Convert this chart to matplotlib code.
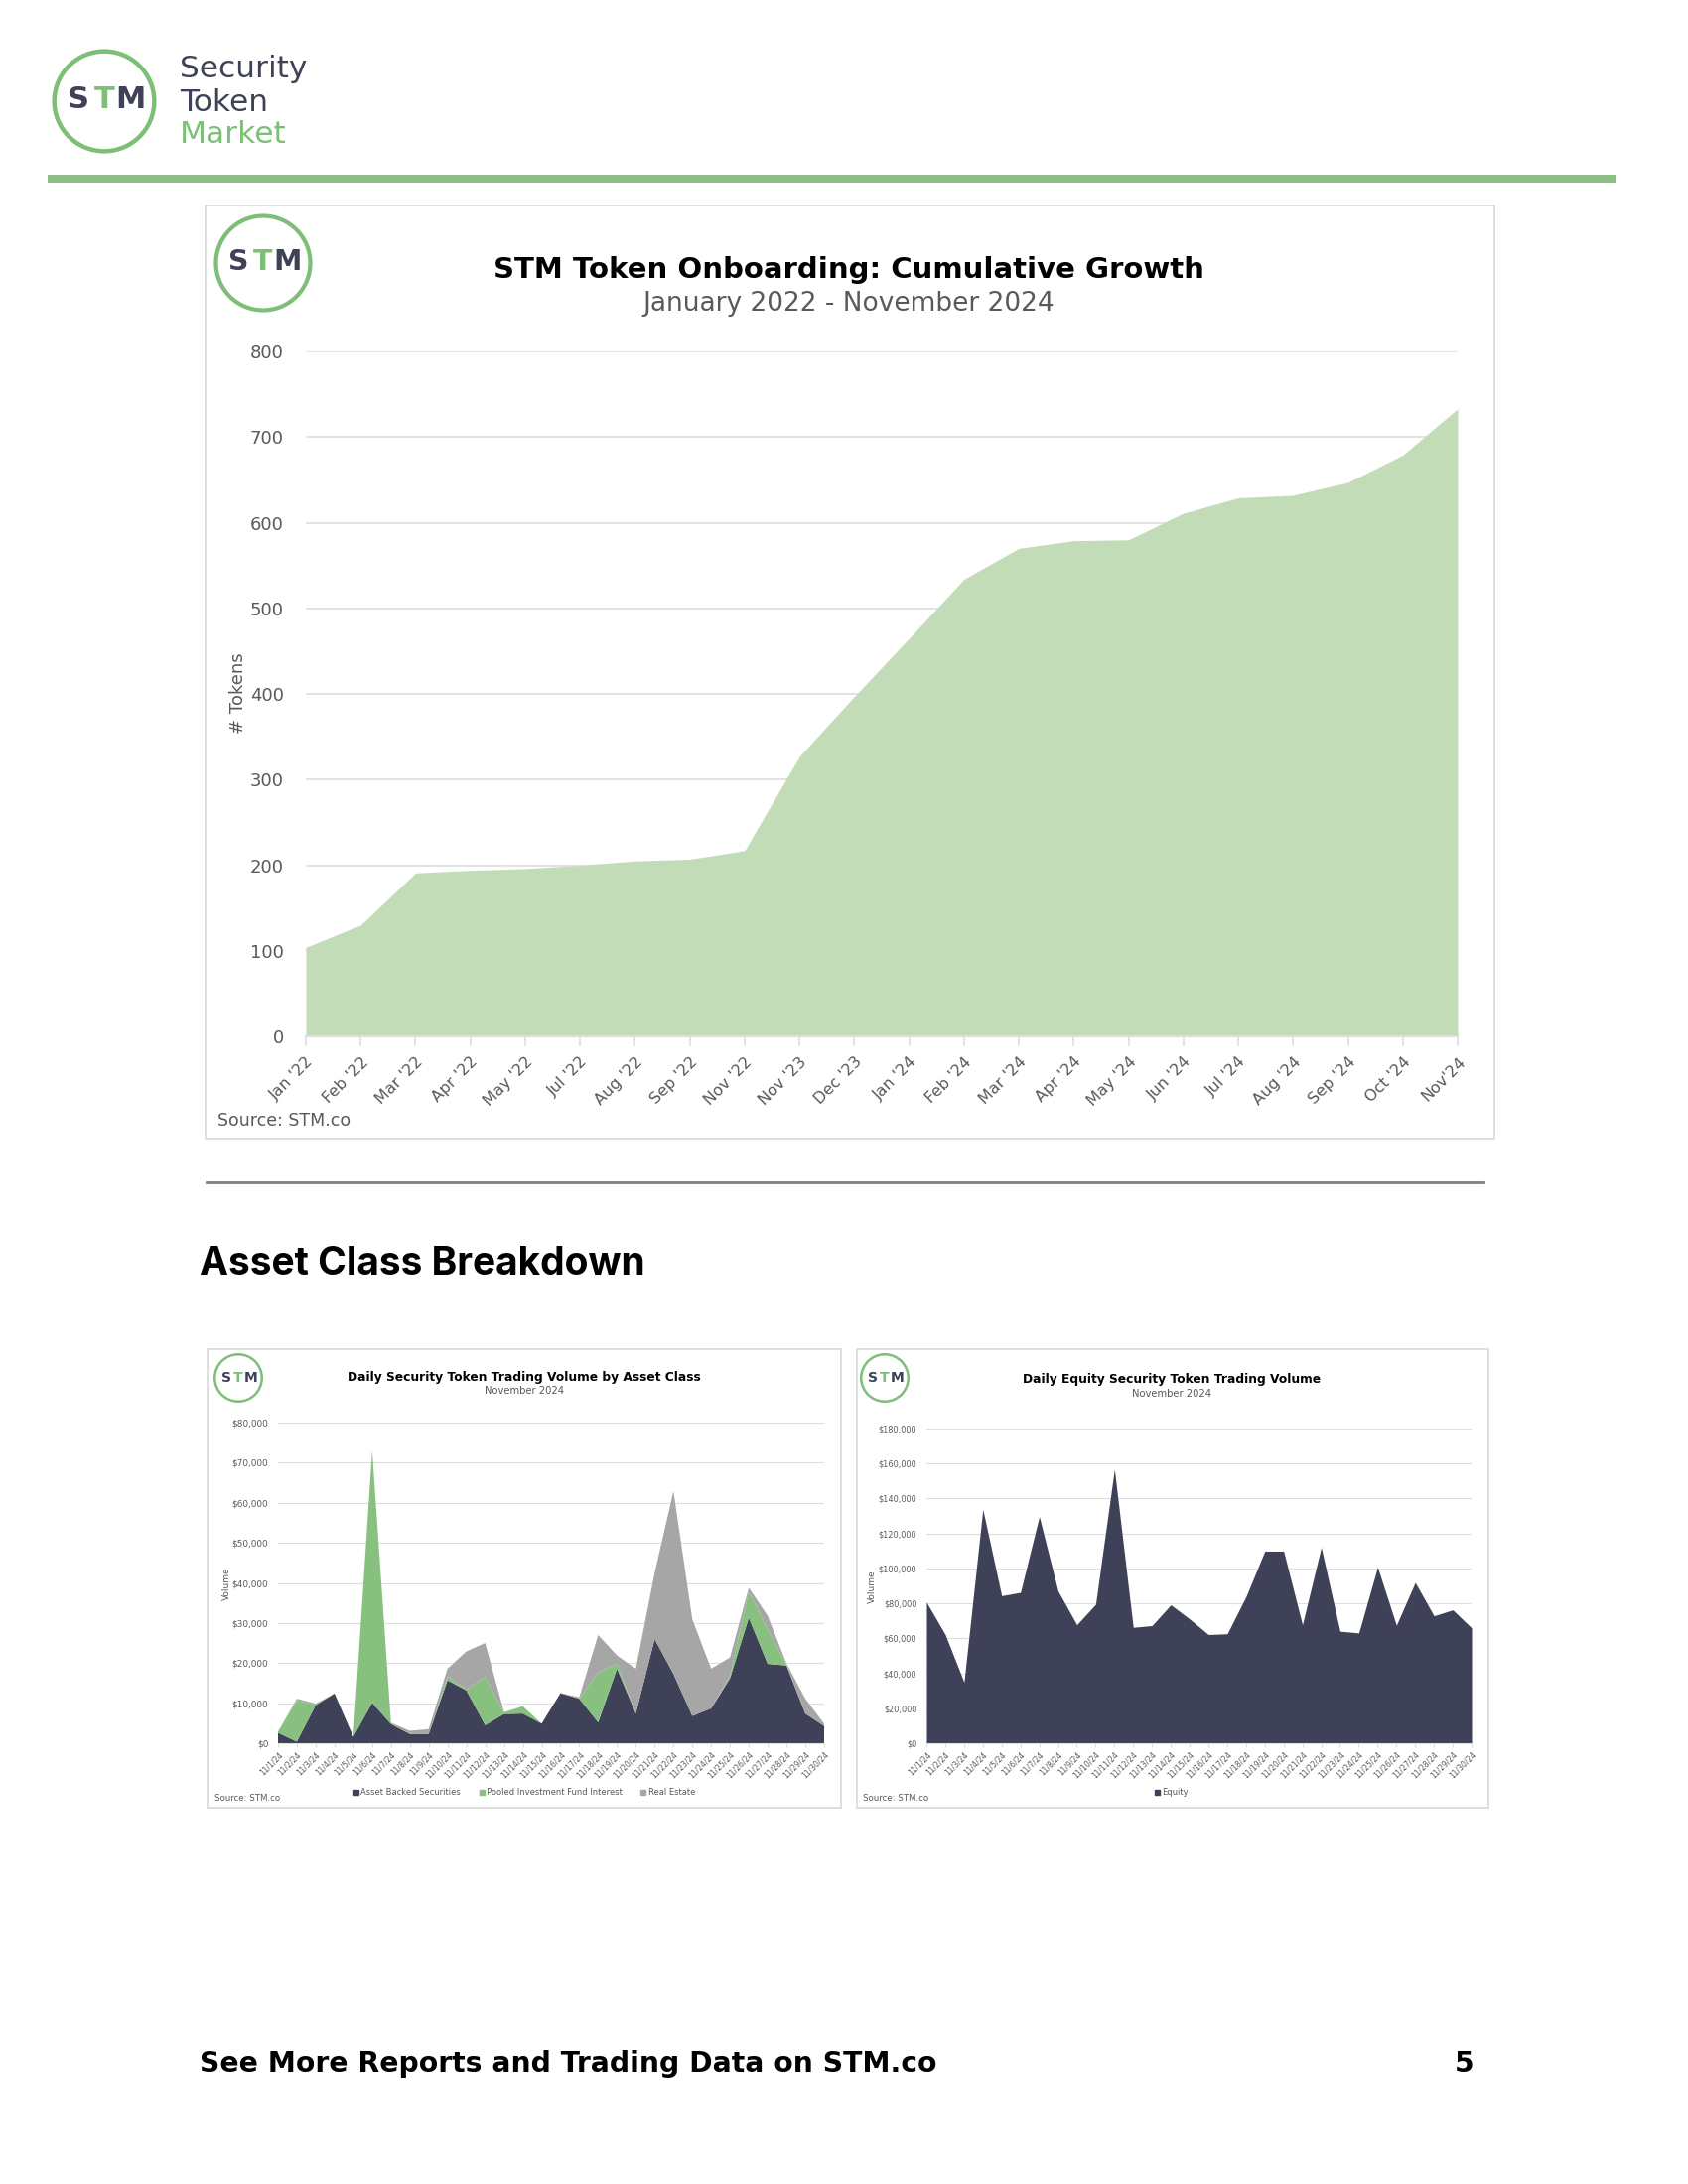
"""STM report page 5: cumulative onboarding + asset class breakdown"""
import numpy as np
import matplotlib
matplotlib.use("Agg")
import matplotlib.pyplot as plt
from matplotlib.patches import Rectangle, Circle, Patch
from matplotlib.ticker import FuncFormatter

W, H = 1700, 2200
NAVY = "#3f4159"
GREEN = "#7dbf77"
AREA_GREEN = "#c3dcb8"
GRID = "#dedede"
TXT = "#595959"

# ─── data ────────────────────────────────────────────────────────────
months = ["Jan '22", "Feb '22", "Mar '22", "Apr '22", "May '22", "Jul '22",
          "Aug '22", "Sep '22", "Nov '22", "Nov '23", "Dec '23", "Jan '24",
          "Feb '24", "Mar '24", "Apr '24", "May '24", "Jun '24", "Jul '24",
          "Aug '24", "Sep '24", "Oct '24", "Nov'24"]
tokens = [104, 130, 191, 194, 196, 200, 205, 207, 217, 327, 397, 465,
          534, 570, 579, 580, 611, 629, 632, 647, 679, 733]

days = [f"11/{d}/24" for d in range(1, 31)]
abs_vol = [2.6, 0.4, 9.5, 12.4, 1.6, 10.1, 4.8, 2.3, 2.3, 15.7,
           13.2, 4.5, 7.3, 7.4, 4.9, 12.5, 11.1, 5.2, 18.6, 7.4,
           26.0, 17.3, 6.8, 8.7, 16.2, 31.3, 19.8, 19.4, 7.4, 4.3]
pooled_vol = [0.3, 10.2, 0.1, 0.0, 0.0, 63.0, 0.1, 0.0, 0.0, 1.0,
              0.2, 12.0, 0.4, 1.8, 0.0, 0.0, 0.0, 12.5, 1.2, 0.0,
              0.0, 0.0, 0.0, 0.0, 0.7, 6.6, 8.7, 0.1, 0.0, 0.0]
realestate_vol = [0.0, 0.5, 0.3, 0.0, 0.0, 0.0, 0.2, 0.8, 1.2, 1.9,
                  9.5, 8.5, 0.1, 0.0, 0.0, 0.0, 0.4, 9.3, 2.1, 11.2,
                  16.5, 45.6, 24.1, 9.9, 4.5, 0.9, 3.3, 0.4, 3.7, 0.6]
equity_vol = [80.7, 62.2, 34.9, 133.8, 84.4, 86.3, 129.7, 87.1, 67.8, 79.5,
              156.8, 66.3, 67.3, 79.2, 71.1, 62.2, 62.6, 83.9, 109.9, 109.9,
              67.8, 112.1, 64.1, 63.1, 100.8, 67.5, 92.0, 72.9, 76.3, 66.0]


def rect(x0, y0, x1, y1):
    """pixel box (top-left origin) -> figure fraction rect"""
    return [x0 / W, 1 - y1 / H, (x1 - x0) / W, (y1 - y0) / H]


def fx(x):
    return x / W


def fy(y):
    return 1 - y / H


def box(x0, y0, x1, y1, color="#dcdcdc", lw=1.3):
    fig.add_artist(Rectangle((fx(x0), fy(y1)), (x1 - x0) / W, (y1 - y0) / H,
                             transform=fig.transFigure, fill=False,
                             edgecolor=color, linewidth=lw))


def logo(cx, cy, r, fs, lw):
    lax = fig.add_axes(rect(cx - r, cy - r, cx + r, cy + r))
    lax.set_xlim(-1, 1); lax.set_ylim(-1, 1); lax.axis("off")
    lax.add_patch(Circle((0, 0), 0.95, fill=False, edgecolor=GREEN, linewidth=lw))
    for ch, xx, col in [("S", -0.49, NAVY), ("T", 0.0, GREEN), ("M", 0.5, NAVY)]:
        lax.text(xx, 0.02, ch, ha="center", va="center", fontsize=fs,
                 color=col, fontweight="bold")


fig = plt.figure(figsize=(W / 100, H / 100), dpi=100)
fig.patch.set_facecolor("white")

# ─── header ──────────────────────────────────────────────────────────
logo(105, 102, 53, 22, 3.2)
fig.text(fx(181), fy(70), "Security", fontsize=22.5, color=NAVY, va="center")
fig.text(fx(181), fy(103), "Token", fontsize=22.5, color=NAVY, va="center")
fig.text(fx(181), fy(136), "Market", fontsize=22.5, color=GREEN, va="center")
fig.add_artist(Rectangle((fx(48), fy(184)), (1627 - 48) / W, 8 / H,
                         transform=fig.transFigure, color="#8dc084", lw=0))

# ─── main chart ──────────────────────────────────────────────────────
box(207, 207, 1505, 1147)
logo(265, 265, 50, 20.5, 3.0)
fig.text(fx(855), fy(272), "STM Token Onboarding: Cumulative Growth",
         ha="center", va="center", fontsize=21, fontweight="bold", color="black")
fig.text(fx(855), fy(306), "January 2022 - November 2024",
         ha="center", va="center", fontsize=19, color=TXT)

ax = fig.add_axes(rect(308, 354, 1468, 1044))
x = np.arange(len(months))
ax.fill_between(x, tokens, color=AREA_GREEN, linewidth=0, zorder=2)
ax.set_xlim(0, len(months) - 1)
ax.set_ylim(0, 800)
ax.set_yticks(range(0, 801, 100))
ax.grid(axis="y", color=GRID, linewidth=1.2, zorder=0)
ax.set_axisbelow(True)
for s in ["top", "right", "left"]:
    ax.spines[s].set_visible(False)
ax.spines["bottom"].set_color(GRID)
ax.spines["bottom"].set_linewidth(1.5)
ax.tick_params(axis="y", length=0, labelcolor=TXT, labelsize=13, pad=16)
ax.set_xticks(x)
ax.set_xticklabels(months, rotation=45, ha="right", rotation_mode="anchor")
ax.tick_params(axis="x", length=7, color=GRID, width=1.2, labelcolor=TXT,
               labelsize=11.5, pad=6)
fig.text(fx(240), fy(698), "# Tokens", rotation=90, ha="center", va="center",
         fontsize=13, color=TXT)
fig.text(fx(219), fy(1129), "Source: STM.co", ha="left", va="center",
         fontsize=12.5, color=TXT)

# divider + section heading
fig.add_artist(plt.Line2D([fx(208), fx(1494)], [fy(1191), fy(1191)],
                          transform=fig.transFigure, color="#7f7f7f", linewidth=2))
fig.text(fx(201), fy(1273), "Asset Class Breakdown", ha="left", va="center",
         fontsize=28, fontweight="bold", family=["Inter", "DejaVu Sans"], color="black")

money = FuncFormatter(lambda v, p: f"${v:,.0f}")


def small_axes(r, ymax, step, ysize):
    a = fig.add_axes(r)
    a.set_xlim(0, 29)
    a.set_ylim(0, ymax)
    a.set_yticks(np.arange(0, ymax + 1, step))
    a.yaxis.set_major_formatter(money)
    a.grid(axis="y", color=GRID, linewidth=0.8, zorder=0)
    a.set_axisbelow(True)
    for s in ["top", "right", "left"]:
        a.spines[s].set_visible(False)
    a.spines["bottom"].set_color(GRID)
    a.tick_params(axis="y", length=0, labelcolor=TXT, labelsize=ysize, pad=7)
    a.set_xticks(range(30))
    a.set_xticklabels(days, rotation=45, ha="right", rotation_mode="anchor")
    a.tick_params(axis="x", length=3, color=GRID, labelcolor=TXT, labelsize=5.5, pad=2)
    return a


# ─── left small chart ────────────────────────────────────────────────
box(209, 1359, 847, 1821)
logo(240, 1388, 25, 10, 1.8)
fig.text(fx(528), fy(1387), "Daily Security Token Trading Volume by Asset Class",
         ha="center", va="center", fontsize=8.8, fontweight="bold", color="black")
fig.text(fx(528), fy(1401), "November 2024", ha="center", va="center",
         fontsize=7.2, color=TXT)
axl = small_axes(rect(280, 1433, 830, 1756), 80000, 10000, 6.4)
k = np.arange(30)
axl.stackplot(k, np.array(abs_vol) * 1000, np.array(pooled_vol) * 1000,
              np.array(realestate_vol) * 1000,
              colors=[NAVY, "#88c07f", "#a6a6a6"], linewidth=0, zorder=2)
fig.text(fx(228), fy(1595), "Volume", rotation=90, ha="center", va="center",
         fontsize=6.5, color=TXT)
fig.text(fx(216), fy(1811), "Source: STM.co", ha="left", va="center",
         fontsize=6.2, color=TXT)
fig.legend(handles=[Patch(color=NAVY, label="Asset Backed Securities"),
                    Patch(color="#88c07f", label="Pooled Investment Fund Interest"),
                    Patch(color="#a6a6a6", label="Real Estate")],
           loc="center", bbox_to_anchor=(fx(528), fy(1806)), ncol=3, frameon=False,
           fontsize=6, handlelength=0.6, handleheight=0.6, handletextpad=0.3,
           columnspacing=2.2, labelcolor=TXT)

# ─── right small chart ───────────────────────────────────────────────
box(863, 1359, 1499, 1821)
logo(891, 1388, 25, 10, 1.8)
fig.text(fx(1180), fy(1390), "Daily Equity Security Token Trading Volume",
         ha="center", va="center", fontsize=8.8, fontweight="bold", color="black")
fig.text(fx(1180), fy(1404), "November 2024", ha="center", va="center",
         fontsize=7.2, color=TXT)
axr = small_axes(rect(933, 1439, 1482, 1756), 180000, 20000, 5.9)
axr.fill_between(k, np.array(equity_vol) * 1000, color=NAVY, linewidth=0, zorder=2)
fig.text(fx(878), fy(1598), "Volume", rotation=90, ha="center", va="center",
         fontsize=6.5, color=TXT)
fig.text(fx(869), fy(1811), "Source: STM.co", ha="left", va="center",
         fontsize=6.2, color=TXT)
fig.legend(handles=[Patch(color=NAVY, label="Equity")],
           loc="center", bbox_to_anchor=(fx(1180), fy(1806)), frameon=False,
           fontsize=6, handlelength=0.6, handleheight=0.6, handletextpad=0.3,
           labelcolor=TXT)

# ─── footer ──────────────────────────────────────────────────────────
fig.text(fx(201), fy(2079), "See More Reports and Trading Data on STM.co",
         ha="left", va="center", fontsize=20.3, fontweight="bold", color="black")
fig.text(fx(1484), fy(2079), "5", ha="right", va="center",
         fontsize=20.3, fontweight="bold", color="black")

fig.savefig("out.png", dpi=100, facecolor="white")
plt.close()
